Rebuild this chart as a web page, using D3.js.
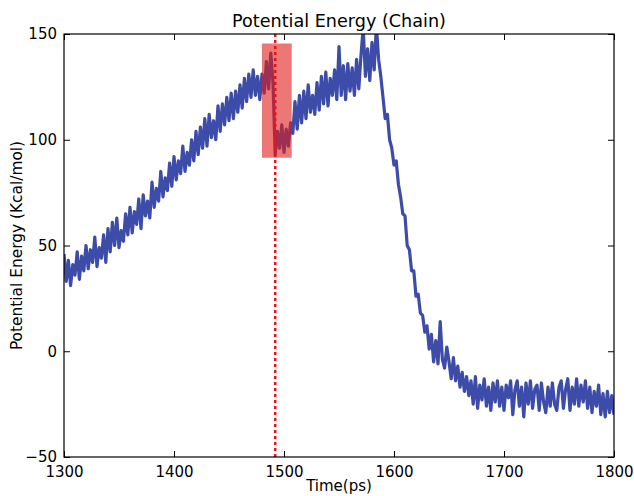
<!DOCTYPE html>
<html><head><meta charset="utf-8">
<script src="https://cdn.jsdelivr.net/npm/d3@7/dist/d3.min.js"></script>
<style>body{margin:0;background:#fff}svg{display:block}text{font-family:"DejaVu Sans",sans-serif;fill:#000}</style>
</head><body>
<script>
// time step 2 ps from 1300
const timeStart = 1300, timeStep = 2;
const energy = [
46,33,43,31,41,36,47,34,45,38,
50,39,48,42,54,40,49,44,55,42,
58,47,61,50,63,49,57,52,65,55,
68,56,66,60,72,58,74,64,71,63,
80,68,77,71,85,73,82,76,89,78,
92,81,90,84,97,85,94,88,100,90,
104,93,106,96,110,97,112,101,109,100,
116,104,117,107,120,109,122,110,123,113,
126,115,129,118,131,120,133,121,130,119,
131,122,137,124,141,127,
93,104,96,107,94,105,97,108,103,
118,105,121,108,123,110,126,113,121,112,
127,114,130,117,132,116,129,121,133,119,
144,121,135,119,136,123,134,121,138,124,
140,153,130,143,128,146,133,154,138,130,
120,110,112,100,96,88,90,79,73,65,
64,50,48,38,38,26,27,18,17,9,
12,1,8,-5,5,-6,14,-4,-8,2,
-5,-13,-3,-14,-7,-17,-10,-19,-12,-21,
-14,-25,-12,-27,-16,-23,-13,-26,-17,-28,
-15,-24,-14,-26,-17,-28,-16,-22,-14,-30,
-18,-14,-26,-17,-31,-15,-25,-14,-27,-18,
-16,-28,-15,-24,-29,-17,-26,-15,-25,-28,
-17,-14,-27,-18,-13,-28,-17,-25,-13,-26,
-16,-24,-14,-27,-17,-29,-19,-26,-16,-30,
-20,-31,-19,-29,-21,-30
];
const xTicks = [1300,1400,1500,1600,1700,1800];
const yTicks = [-50,0,50,100,150];
const spanX = [1480, 1507];
const spanY = [91.5, 145.5];
const eventTime = 1492;

const W = 634, H = 496;
const m = {l:64, r:20, t:34, b:39};
const svg = d3.select("body").append("svg").attr("width",W).attr("height",H);
const x = d3.scaleLinear().domain([1300,1800]).range([m.l, W-m.r]);
const y = d3.scaleLinear().domain([-50,150]).range([H-m.b, m.t]);

svg.append("clipPath").attr("id","clip").append("rect")
  .attr("x",m.l).attr("y",m.t).attr("width",W-m.r-m.l).attr("height",H-m.b-m.t);

const data = energy.map((v,i)=>({t: timeStart + i*timeStep, v}));
const g = svg.append("g").attr("clip-path","url(#clip)");
g.append("path").datum(data)
  .attr("d", d3.line().x(d=>x(d.t)).y(d=>y(d.v)))
  .attr("fill","none").attr("stroke","#3c4ca8").attr("stroke-width",3.2).attr("stroke-linejoin","round");

g.append("rect")
  .attr("x", x(spanX[0])).attr("width", x(spanX[1])-x(spanX[0]))
  .attr("y", y(spanY[1])).attr("height", y(spanY[0])-y(spanY[1]))
  .attr("fill","rgb(225,28,24)").attr("fill-opacity",0.6);

g.append("line")
  .attr("x1", x(eventTime)).attr("x2", x(eventTime))
  .attr("y1", m.t).attr("y2", H-m.b)
  .attr("stroke","#e0161a").attr("stroke-width",2.5).attr("stroke-dasharray","3,3");

// axes (ticks inward, all sides)
const tl = 6;
svg.append("g").attr("transform",`translate(0,${H-m.b})`)
  .call(d3.axisBottom(x).tickValues(xTicks).tickSize(-tl).tickPadding(9).tickFormat(d3.format("d")))
  .call(a=>{a.select(".domain").remove();a.selectAll("text").attr("font-size",15).attr("font-family","DejaVu Sans");});
svg.append("g").attr("transform",`translate(0,${m.t})`)
  .call(d3.axisTop(x).tickValues(xTicks).tickSize(-tl).tickFormat(""))
  .call(a=>a.select(".domain").remove());
svg.append("g").attr("transform",`translate(${m.l},0)`)
  .call(d3.axisLeft(y).tickValues(yTicks).tickSize(-tl).tickPadding(7).tickFormat(d=>d<0?"\u2212"+Math.abs(d):d))
  .call(a=>{a.select(".domain").remove();a.selectAll("text").attr("font-size",15).attr("font-family","DejaVu Sans");});
svg.append("g").attr("transform",`translate(${W-m.r},0)`)
  .call(d3.axisRight(y).tickValues(yTicks).tickSize(-tl).tickFormat(""))
  .call(a=>a.select(".domain").remove());
svg.selectAll(".tick line").attr("stroke","#000");

svg.append("rect").attr("x",m.l).attr("y",m.t).attr("width",W-m.r-m.l).attr("height",H-m.b-m.t)
  .attr("fill","none").attr("stroke","#000").attr("stroke-width",1.2);

svg.append("text").attr("x",(m.l+W-m.r)/2).attr("y",27).attr("text-anchor","middle")
  .attr("font-size",17.6).text("Potential Energy (Chain)");
svg.append("text").attr("x",(m.l+W-m.r)/2).attr("y",491).attr("text-anchor","middle")
  .attr("font-size",15).text("Time(ps)");
svg.append("text").attr("transform",`translate(22,${(m.t+H-m.b)/2}) rotate(-90)`).attr("text-anchor","middle")
  .attr("font-size",15.4).text("Potential Energy (Kcal/mol)");
</script>
</body></html>
